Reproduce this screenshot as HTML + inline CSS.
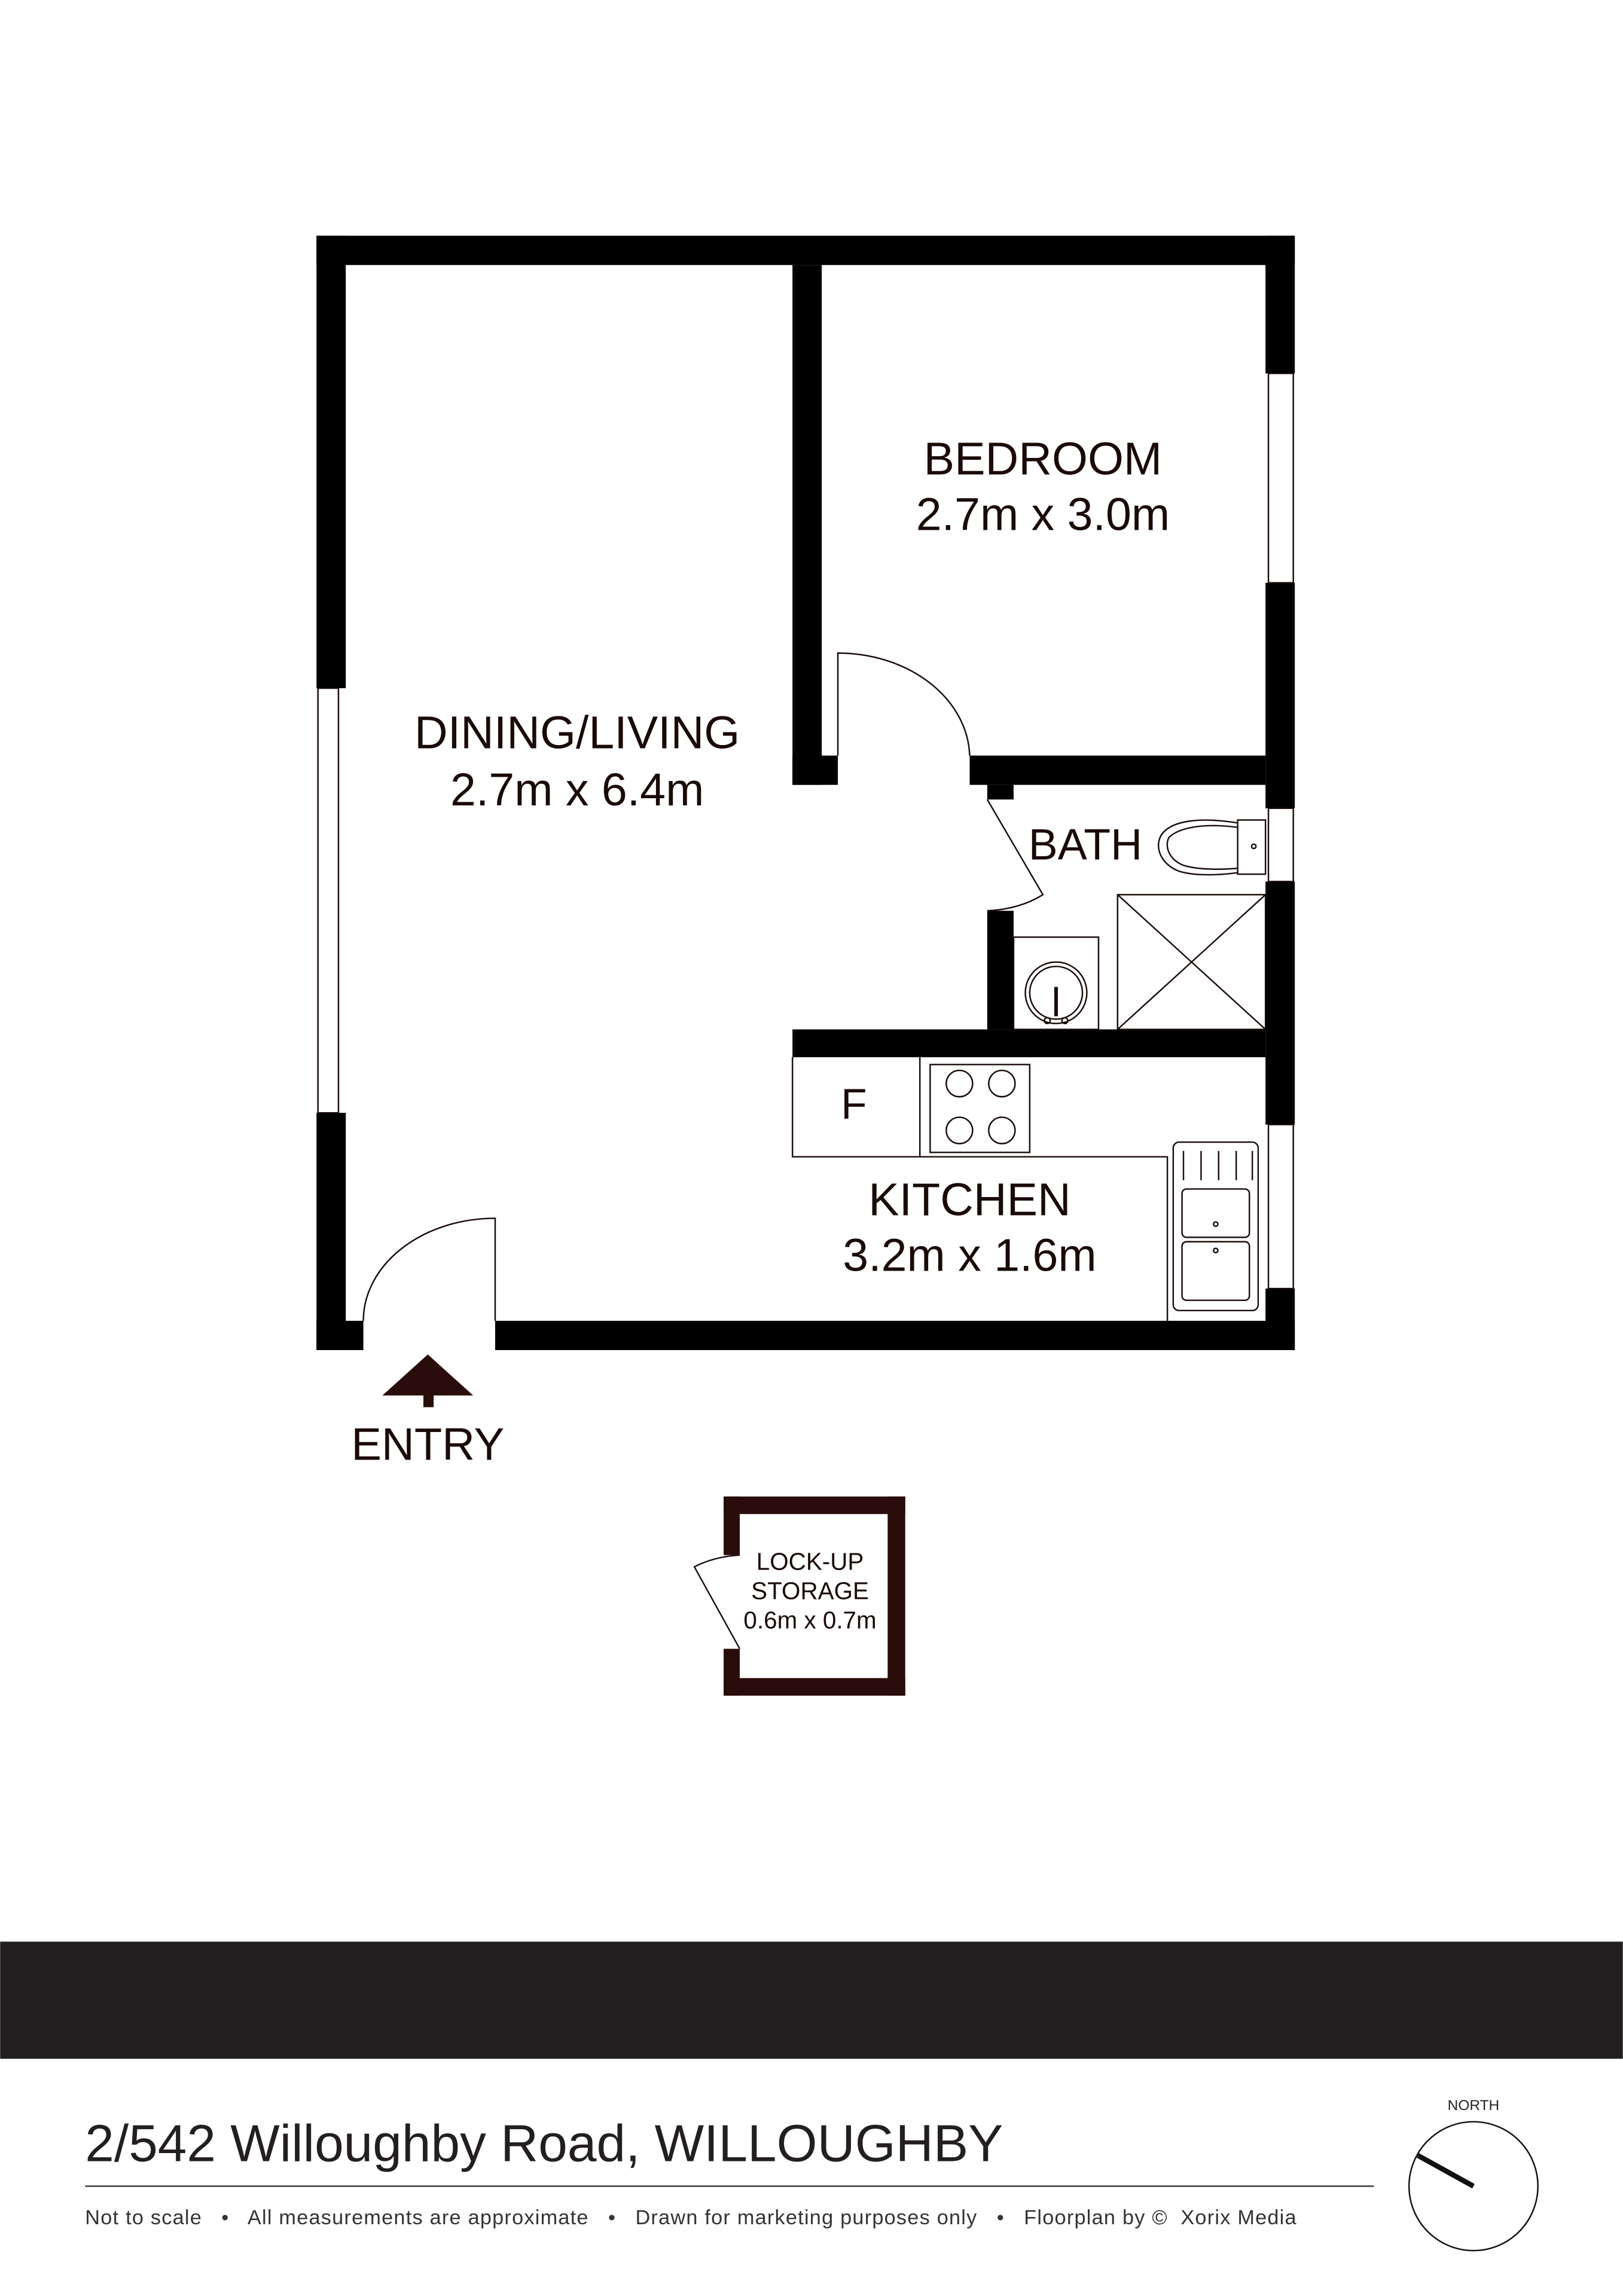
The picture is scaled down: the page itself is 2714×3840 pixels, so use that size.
<!DOCTYPE html>
<html><head><meta charset="utf-8"><style>
html,body{margin:0;padding:0;background:#fff;}
svg{display:block;}
text{font-family:"Liberation Sans",Arial,sans-serif;}
</style></head><body>
<svg width="2714" height="3840" viewBox="0 0 1108 1568" xmlns="http://www.w3.org/2000/svg">
<rect width="1108" height="1568" fill="#fff"/>
<g fill="#000">
<rect x="216" y="161" width="668" height="20"/>
<rect x="216" y="161" width="20" height="309"/>
<rect x="216" y="760" width="20" height="162"/>
<rect x="216" y="902" width="32" height="20"/>
<rect x="338" y="902" width="546" height="20"/>
<rect x="864" y="161" width="20" height="94"/>
<rect x="864" y="398" width="20" height="154"/>
<rect x="864" y="602" width="20" height="166"/>
<rect x="864" y="880" width="20" height="42"/>
<rect x="541" y="181" width="20" height="355"/>
<rect x="541" y="516" width="31" height="20"/>
<rect x="662" y="516" width="202" height="20"/>
<rect x="674" y="536" width="18" height="10"/>
<rect x="674" y="622" width="18" height="81"/>
<rect x="541" y="703" width="323" height="19"/>
</g>
<g fill="none" stroke="#1a0d0a" stroke-width="1">
<rect x="217" y="470" width="14" height="290"/>
<rect x="866" y="255" width="17" height="143"/>
<rect x="866" y="552" width="17" height="50"/>
<rect x="866" y="768" width="17" height="112"/>
<path d="M338,902 L338,832 A90,70 0 0 0 248,902"/>
<path d="M572,516 L572,446 A90,72 0 0 1 662,516"/>
<path d="M674,546 L712,611 A60,40 0 0 1 674,622"/>
<rect x="692" y="640" width="58" height="63"/>
<circle cx="721" cy="678" r="21"/>
<circle cx="721" cy="678" r="18"/>
<line x1="721" y1="674" x2="721" y2="694" stroke-width="2.5"/>
<circle cx="715" cy="697" r="2"/><circle cx="727" cy="697" r="2"/>
<rect x="763" y="611" width="101" height="92"/>
<line x1="763" y1="611" x2="864" y2="703"/>
<line x1="864" y1="611" x2="763" y2="703"/>
<rect x="845" y="560" width="19" height="37"/>
<path d="M845,562 C820,558 800,560 793,570 C788,578 792,590 805,595 C815,598 830,598 845,596"/>
<path d="M845,565 C822,562 805,565 798,572 C795,578 798,587 808,591 C818,594 832,594 845,593"/>
<circle cx="856" cy="578" r="1.5"/>
<path d="M541,722 L541,790 L797,790 L797,902"/>
<line x1="628" y1="722" x2="628" y2="790"/>
<rect x="635" y="727" width="68" height="60"/>
<circle cx="655" cy="740" r="9"/><circle cx="684" cy="740" r="9"/>
<circle cx="655" cy="772" r="9"/><circle cx="684" cy="772" r="9"/>
<rect x="801" y="780" width="58" height="115" rx="4"/>
<line x1="808" y1="786" x2="808" y2="806"/><line x1="820" y1="786" x2="820" y2="806"/>
<line x1="832" y1="786" x2="832" y2="806"/><line x1="844" y1="786" x2="844" y2="806"/>
<line x1="855" y1="786" x2="855" y2="806"/>
<rect x="807" y="812" width="46" height="33" rx="3"/>
<rect x="807" y="848" width="46" height="40" rx="3"/>
<circle cx="830" cy="836" r="1.5"/><circle cx="830" cy="854" r="1.5"/>
<path d="M505,1126 L474,1070 A60,40 0 0 1 505,1062"/>
</g>
<polygon points="292,925 261,953 323,953" fill="#2a0d0a"/>
<rect x="289" y="952" width="7" height="9" fill="#2a0d0a"/>
<g fill="#2a0d0a">
<rect x="494" y="1022" width="124" height="12"/>
<rect x="494" y="1146" width="124" height="12"/>
<rect x="606" y="1022" width="12" height="136"/>
<rect x="494" y="1022" width="11" height="40"/>
<rect x="494" y="1126" width="11" height="32"/>
</g>
<g fill="#1a0a08" text-anchor="middle">
<text x="712" y="324" font-size="31.5">BEDROOM</text>
<text x="712" y="362" font-size="31.5">2.7m x 3.0m</text>
<text x="394" y="511" font-size="31.5">DINING/LIVING</text>
<text x="394" y="550" font-size="31.5">2.7m x 6.4m</text>
<text x="741" y="587" font-size="30">BATH</text>
<text x="583" y="764" font-size="29">F</text>
<text x="662" y="830" font-size="31.5">KITCHEN</text>
<text x="662" y="868" font-size="31.5">3.2m x 1.6m</text>
<text x="292" y="997" font-size="31">ENTRY</text>
<text x="553" y="1072" font-size="16.5">LOCK-UP</text>
<text x="553" y="1092" font-size="16.5">STORAGE</text>
<text x="553" y="1112" font-size="16.5">0.6m x 0.7m</text>
</g>
<rect x="0" y="1326" width="1108" height="80" fill="#231f20"/>
<text x="58" y="1476" font-size="35.7" fill="#231f20">2/542 Willoughby Road, WILLOUGHBY</text>
<line x1="58" y1="1493" x2="938" y2="1493" stroke="#333" stroke-width="1"/>
<text x="58" y="1519" font-size="14" fill="#333" xml:space="preserve" textLength="827" lengthAdjust="spacing">Not to scale   •   All measurements are approximate   •   Drawn for marketing purposes only   •   Floorplan by ©  Xorix Media</text>
<text x="1006" y="1441" font-size="10" fill="#222" text-anchor="middle">NORTH</text>
<circle cx="1006" cy="1493" r="44" fill="none" stroke="#111" stroke-width="1"/>
<line x1="968" y1="1472" x2="1006" y2="1493" stroke="#111" stroke-width="3.5"/>
</svg>
</body></html>
